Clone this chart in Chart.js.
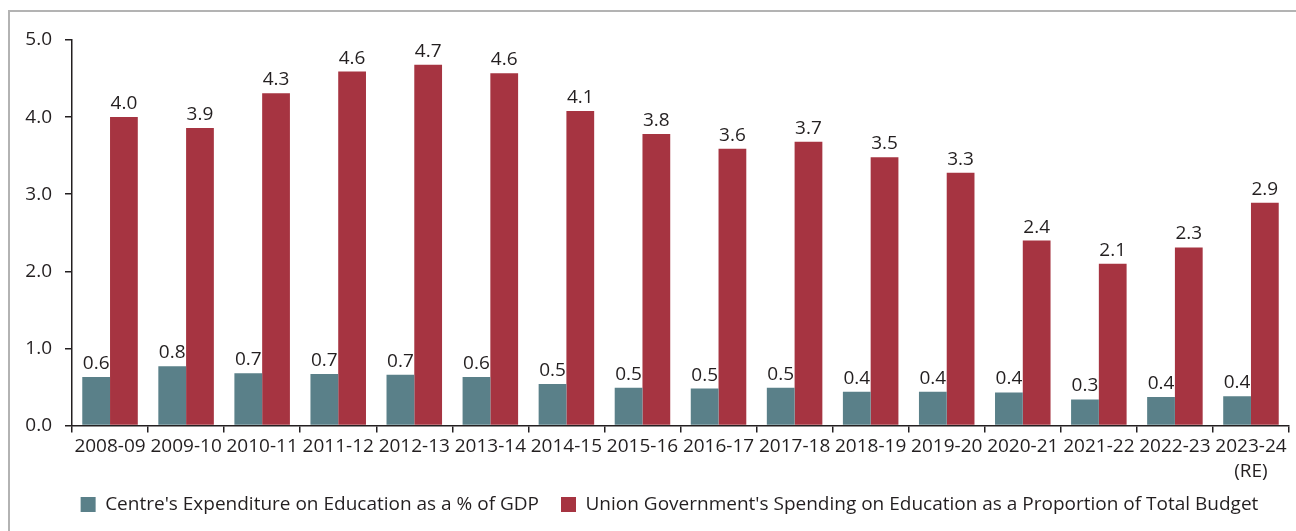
<!DOCTYPE html>
<html>
<head>
<meta charset="utf-8">
<script src="https://cdn.jsdelivr.net/npm/chart.js@4.4.1/dist/chart.umd.min.js"></script>
<style>
  html, body { margin: 0; padding: 0; background: #fff; overflow: hidden; }
  #wrap { position: relative; width: 1296px; height: 531px; }
  #frame {
    position: absolute; left: 8px; top: 10px; width: 1300px; height: 540px;
    border-top: 2px solid #b3b3b3; border-left: 2px solid #b3b3b3;
    pointer-events: none;
  }
  canvas { position: absolute; left: 0; top: 0; }
</style>
</head>
<body>
<div id="wrap">
  <div id="frame"></div>
  <canvas id="chart" width="1296" height="531"></canvas>
</div>
<script>
// Fiscal years (last one is the revised estimate)
const years = ['2008-09', '2009-10', '2010-11', '2011-12', '2012-13', '2013-14', '2014-15', '2015-16',
  '2016-17', '2017-18', '2018-19', '2019-20', '2020-21', '2021-22', '2022-23', ['2023-24', '(RE)']];

// Centre's expenditure on education, % of GDP
const shareOfGdp = [0.63, 0.77, 0.68, 0.67, 0.66, 0.63, 0.54, 0.49, 0.48, 0.49, 0.44, 0.44, 0.43, 0.34, 0.37, 0.38];

// Union Government's education spending, % of total budget
const shareOfBudget = [4.00, 3.86, 4.31, 4.59, 4.68, 4.57, 4.08, 3.78, 3.59, 3.68, 3.48, 3.28, 2.40, 2.10, 2.31, 2.89];

const seriesNames = [
  "Centre's Expenditure on Education as a % of GDP",
  "Union Government's Spending on Education as a Proportion of Total Budget"
];

const yTicks = [0, 1, 2, 3, 4, 5];

const FONT = '"Open Sans", sans-serif';
const INK = '#231f20';
const SIZE = 19;

// Value labels printed above each bar
const barValueLabels = {
  id: 'barValueLabels',
  afterDatasetsDraw(chart) {
    const ctx = chart.ctx;
    ctx.save();
    ctx.font = SIZE + 'px ' + FONT;
    ctx.fillStyle = INK;
    ctx.textAlign = 'center';
    ctx.textBaseline = 'alphabetic';
    chart.data.datasets.forEach((ds, i) => {
      const meta = chart.getDatasetMeta(i);
      meta.data.forEach((bar, j) => {
        ctx.fillText(ds.data[j].toFixed(1), bar.x, bar.y - 8);
      });
    });
    ctx.restore();
  }
};

// Shorter legend box with wide item spacing, nudged toward the plot centre
const compactLegend = {
  id: 'compactLegend',
  afterInit(chart) {
    const legend = chart.legend;
    const fit = legend.fit;
    legend.fit = function () {
      fit.call(this);
      this.height -= 14;
    };
    legend.draw = function () {
      if (!this.options.display) return;
      const ctx = this.ctx;
      ctx.save();
      ctx.translate(20, -13);
      this._draw();
      ctx.restore();
    };
  }
};

new Chart(document.getElementById('chart'), {
  type: 'bar',
  data: {
    labels: years,
    datasets: [
      { label: seriesNames[0], data: shareOfGdp, backgroundColor: '#5a8089' },
      { label: seriesNames[1], data: shareOfBudget, backgroundColor: '#a63441' }
    ]
  },
  options: {
    responsive: false,
    animation: false,
    events: [],
    layout: { padding: { left: 10, right: 7, top: 40, bottom: 8 } },
    datasets: { bar: { categoryPercentage: 0.73, barPercentage: 1.0 } },
    scales: {
      x: {
        grid: { display: true, drawOnChartArea: false, drawTicks: true, tickLength: 7, color: INK, lineWidth: 1.5, offset: true },
        border: { display: true, color: INK, width: 1.5 },
        ticks: { color: INK, font: { family: FONT, size: SIZE, lineHeight: 1.3 }, padding: 2, maxRotation: 0, autoSkip: false }
      },
      y: {
        min: 0, max: 5,
        afterFit(scale) { scale.width = 62; },
        afterBuildTicks(scale) { scale.ticks = yTicks.map(v => ({ value: v })); },
        grid: { display: true, drawOnChartArea: false, drawTicks: true, tickLength: 7, color: INK, lineWidth: 1.5 },
        border: { display: true, color: INK, width: 1.5 },
        ticks: { color: INK, font: { family: FONT, size: SIZE }, padding: 13, callback: v => Number(v).toFixed(1) }
      }
    },
    plugins: {
      legend: {
        position: 'bottom',
        labels: { color: INK, font: { family: FONT, size: SIZE }, boxWidth: 15, boxHeight: 15, padding: 22 }
      },
      tooltip: { enabled: false }
    }
  },
  plugins: [barValueLabels, compactLegend]
});
</script>
</body>
</html>
